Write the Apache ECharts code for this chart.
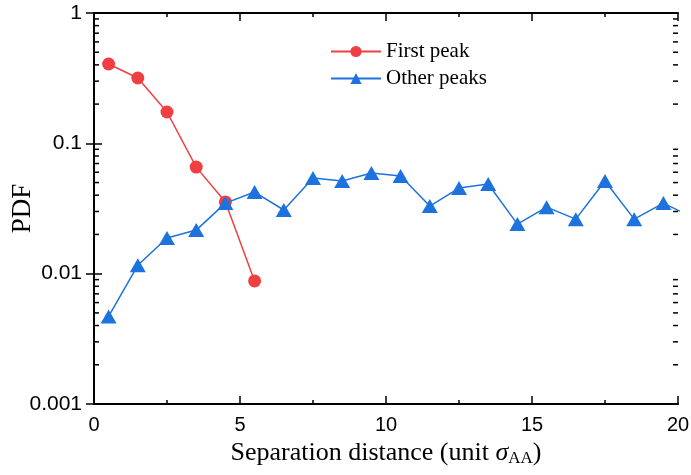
<!DOCTYPE html>
<html>
<head>
<meta charset="utf-8">
<script src="https://cdn.jsdelivr.net/npm/echarts@6/dist/echarts.min.js"></script>
<style>
  html, body { margin: 0; padding: 0; background: #fff; }
  #chart { width: 691px; height: 475px; }
</style>
</head>
<body>
<div id="chart"></div>
<script>
// separation distance (bin centres)
const xFirst = [0.5, 1.5, 2.5, 3.5, 4.5, 5.5]
const firstPeak = [0.406, 0.317, 0.174, 0.0657, 0.0355, 0.0088]
const xOther = [0.5, 1.5, 2.5, 3.5, 4.5, 5.5, 6.5, 7.5, 8.5, 9.5, 10.5,
  11.5, 12.5, 13.5, 14.5, 15.5, 16.5, 17.5, 18.5, 19.5, 20.5]
const otherPeaks = [0.0047, 0.0116, 0.0188, 0.0216, 0.0348, 0.0423, 0.0308,
  0.0542, 0.0514, 0.0592, 0.0561, 0.033, 0.0454, 0.0487, 0.024, 0.0324,
  0.0262, 0.0514, 0.0262, 0.0348, 0.027]
const yTickLabels = { 1: '1', 0.1: '0.1', 0.01: '0.01', 0.001: '0.001' }
// minor ticks of the log axis (2..9 in each decade)
const minorValues = []
;[0.001, 0.01, 0.1].forEach((d) => {
  for (let k = 2; k <= 9; k++) minorValues.push(+(d * k).toPrecision(3))
})

const red = '#ef3f42'
const blue = '#1d72de'
const serif = '"Liberation Serif", "DejaVu Serif", serif'
const sans = '"Liberation Sans", Arial, sans-serif'

const chart = echarts.init(document.getElementById('chart'))

const xCommon = {
  type: 'value',
  min: 0,
  max: 20,
  interval: 5,
  splitLine: { show: false },
  axisLine: { lineStyle: { color: '#000', width: 2 } },
  axisTick: { inside: true, length: 8, lineStyle: { color: '#000', width: 1.5 } },
  minorTick: { show: true, splitNumber: 2, length: 4, lineStyle: { color: '#000', width: 1.5 } }
}
const yCommon = {
  type: 'log',
  logBase: 10,
  min: 0.001,
  max: 1,
  interval: 1,
  splitLine: { show: false },
  axisLine: { lineStyle: { color: '#000', width: 2 } },
  axisTick: { inside: true, length: 8, lineStyle: { color: '#000', width: 1.5 } }
}

// minor ticks on both vertical sides: [side, value]
const minorData = []
minorValues.forEach((v) => {
  minorData.push([0, v])
  minorData.push([1, v])
})

chart.setOption({
  animation: false,
  backgroundColor: '#fff',
  grid: { left: 94, right: 13, top: 13, bottom: 71, containLabel: false, outerBoundsMode: 'none' },
  legend: {
    orient: 'vertical',
    left: 330,
    top: 41,
    padding: 0,
    itemWidth: 50,
    itemHeight: 14,
    itemGap: 6,
    textStyle: { fontFamily: serif, fontSize: 21, color: '#000' },
    data: ['First peak', 'Other peaks']
  },
  xAxis: [
    Object.assign({}, xCommon, {
      position: 'bottom',
      axisLabel: { color: '#000', fontFamily: sans, fontSize: 20, margin: 11 },
      name: '{t|Separation distance (unit }{s|σ}{sub|AA}{t|)}',
      nameLocation: 'middle',
      nameGap: 35,
      nameMoveOverlap: false,
      nameTextStyle: {
        rich: {
          t: { fontFamily: serif, fontSize: 26, color: '#000' },
          s: { fontFamily: serif, fontSize: 26, fontStyle: 'italic', color: '#000' },
          sub: { fontFamily: serif, fontSize: 17, color: '#000', padding: [11, 0, 0, 0] }
        }
      }
    }),
    Object.assign({}, xCommon, { position: 'top', axisLabel: { show: false } })
  ],
  yAxis: [
    Object.assign({}, yCommon, {
      position: 'left',
      axisLabel: {
        color: '#000',
        fontFamily: sans,
        fontSize: 21,
        margin: 12,
        formatter: (v) => yTickLabels[+v.toPrecision(3)] || ''
      },
      name: 'PDF',
      nameLocation: 'middle',
      nameGap: 58,
      nameMoveOverlap: false,
      nameTextStyle: { fontFamily: serif, fontSize: 27, color: '#000' }
    }),
    Object.assign({}, yCommon, { position: 'right', axisLabel: { show: false } })
  ],
  series: [
    {
      name: 'First peak',
      type: 'line',
      data: xFirst.map((x, i) => [x, firstPeak[i]]),
      symbol: 'circle',
      symbolSize: 13,
      itemStyle: { color: red },
      lineStyle: { color: red, width: 1.5 },
      z: 3
    },
    {
      name: 'Other peaks',
      type: 'line',
      data: xOther.map((x, i) => [x, otherPeaks[i]]),
      symbol: 'triangle',
      symbolSize: [16, 14],
      itemStyle: { color: blue },
      lineStyle: { color: blue, width: 1.5 },
      clip: true,
      z: 4
    },
    {
      type: 'custom',
      silent: true,
      clip: false,
      z: 10,
      encode: { x: -1, y: 1 },
      data: minorData,
      renderItem: (params, api) => {
        const side = api.value(0)
        const p = api.coord([10, api.value(1)])
        const rect = params.coordSys
        const x0 = side === 0 ? rect.x : rect.x + rect.width
        const dir = side === 0 ? 1 : -1
        return {
          type: 'line',
          shape: { x1: x0, y1: p[1], x2: x0 + dir * 5, y2: p[1] },
          style: { stroke: '#000', lineWidth: 1.5 }
        }
      }
    }
  ]
})
</script>
</body>
</html>
